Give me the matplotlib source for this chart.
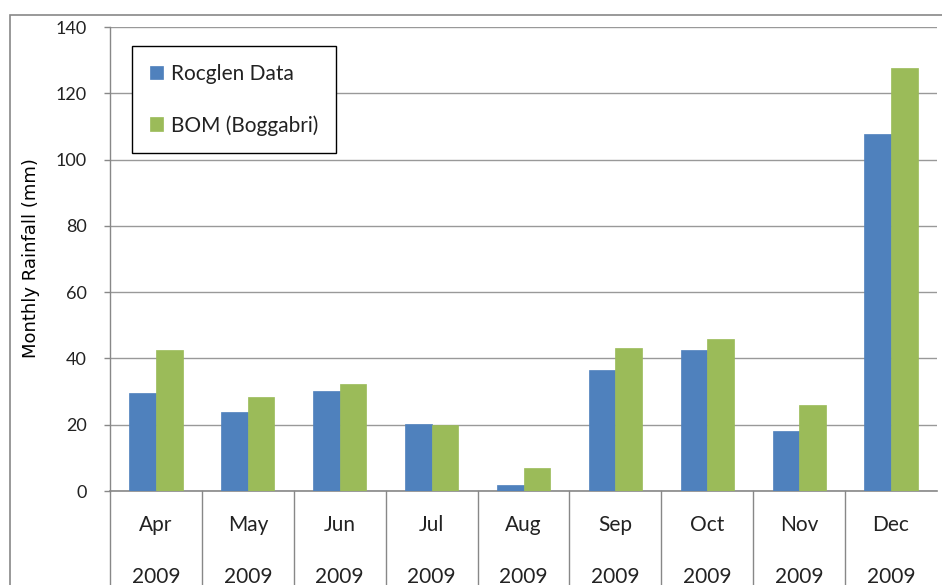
import matplotlib
matplotlib.use("Agg")
import matplotlib.pyplot as plt
import matplotlib.transforms as mtrans
from matplotlib.patches import Rectangle
import numpy as np

months = ["Apr", "May", "Jun", "Jul", "Aug", "Sep", "Oct", "Nov", "Dec"]
years = ["2009"] * 9
rocglen = [29.6, 23.8, 30.2, 20.3, 1.7, 36.5, 42.5, 18.0, 107.6]
bom = [42.5, 28.4, 32.3, 19.9, 6.9, 43.2, 45.9, 25.9, 127.7]
series_names = ["Rocglen Data", "BOM (Boggabri)"]
yticks = [0, 20, 40, 60, 80, 100, 120, 140]

plt.rcParams['font.family'] = ['Lato', 'DejaVu Sans']

fig = plt.figure(figsize=(9.42, 5.85), dpi=100)
ax = fig.add_axes([110/942, 1-491/585, 827/942, 464/585])

x = np.arange(len(months))
w = 0.29
ax.bar(x - w/2, rocglen, w, color="#4F81BD", edgecolor="#4F81BD", linewidth=0.5, label=series_names[0], zorder=3)
ax.bar(x + w/2, bom, w, color="#9BBB59", edgecolor="#9BBB59", linewidth=0.5, label=series_names[1], zorder=3)

ax.set_xlim(-0.5, len(months) - 0.5)
ax.set_ylim(0, 140)
ax.set_yticks(yticks)
ax.set_yticklabels([str(v) for v in yticks], fontsize=13, color="#222222")
ax.tick_params(axis='y', length=4.5, width=1, color="#888888", pad=12)
ax.set_xticks([])
ax.yaxis.grid(True, color="#999999", linewidth=1, zorder=0)
for s in ["top", "right"]:
    ax.spines[s].set_visible(False)
ax.spines["left"].set_color("#888888")
ax.spines["bottom"].set_color("#888888")
ax.spines["left"].set_linewidth(1)
ax.spines["bottom"].set_linewidth(1.2)

trans = mtrans.blended_transform_factory(ax.transData, ax.transAxes)
for i in range(len(months)):
    ax.plot([i - 0.5, i - 0.5], [0, -0.25], transform=trans, color="#888888", lw=1, clip_on=False)
    ax.text(i, -0.073, months[i], transform=trans, ha='center', va='center', fontsize=15, color="#222222")
    ax.text(i, -0.185, years[i], transform=trans, ha='center', va='center', fontsize=15, color="#222222")

fig.text(31/942, 1-258/585, "Monthly Rainfall (mm)", rotation=90, ha='center', va='center',
         fontsize=13, family=['Liberation Sans Narrow', 'DejaVu Sans'], color="#000000")

leg = ax.legend(loc='upper left', bbox_to_anchor=(22/827, (491-46)/464), borderaxespad=0,
                fontsize=15, frameon=True, fancybox=False, edgecolor="#000000", framealpha=1,
                handlelength=0.62, handleheight=0.62, handletextpad=0.4, labelspacing=1.5,
                borderpad=0.85)
leg.get_frame().set_linewidth(1)
for t in leg.get_texts():
    t.set_color("#222222")

fig.patches.append(Rectangle((10/942, -0.2), 1.2, 0.2 + 1 - 15/585, transform=fig.transFigure,
                             fill=False, edgecolor="#888888", lw=1.2, clip_on=False))

fig.savefig("out.png", dpi=100)
